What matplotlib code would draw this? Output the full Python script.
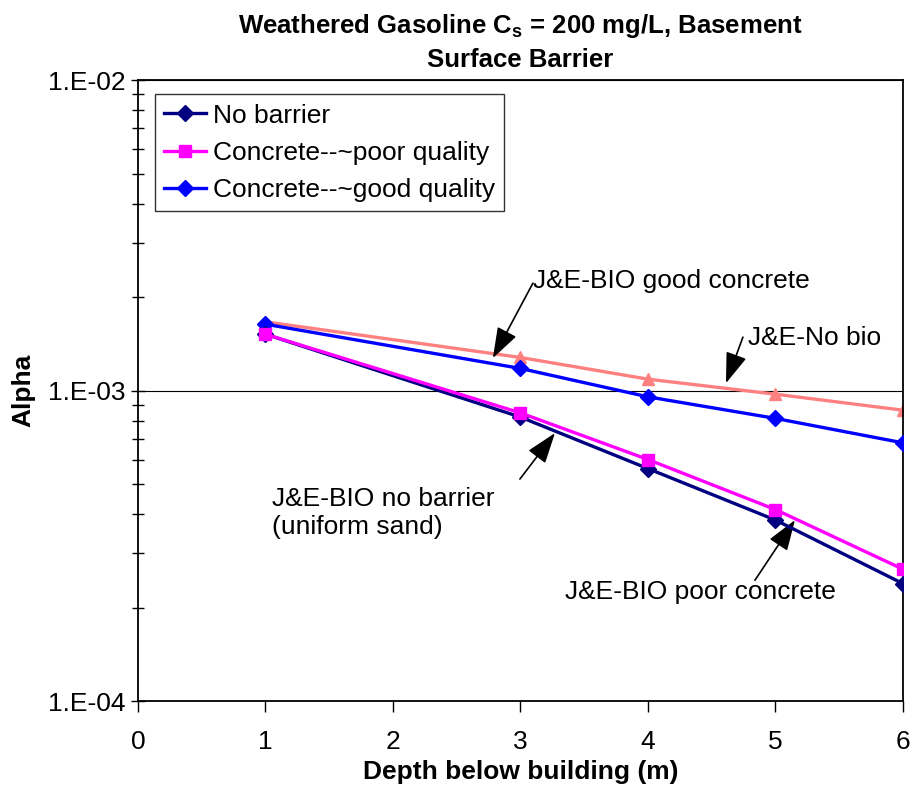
import matplotlib
matplotlib.use("Agg")
import matplotlib.pyplot as plt
from matplotlib.ticker import LogLocator, NullFormatter, FixedLocator

plt.rcParams['font.family'] = ['Liberation Sans', 'DejaVu Sans']
plt.rcParams['mathtext.fontset'] = 'custom'
plt.rcParams['mathtext.rm'] = 'Liberation Sans'
plt.rcParams['mathtext.bf'] = 'Liberation Sans:bold'

depth = [1, 3, 4, 5, 6]
no_barrier = [1.52e-3, 8.22e-4, 5.61e-4, 3.83e-4, 2.39e-4]
poor_concrete = [1.52e-3, 8.48e-4, 6.00e-4, 4.14e-4, 2.66e-4]
good_concrete = [1.637e-3, 1.179e-3, 9.55e-4, 8.14e-4, 6.79e-4]
no_bio = [1.666e-3, 1.279e-3, 1.089e-3, 9.74e-4, 8.65e-4]

series_labels = ["No barrier", "Concrete--~poor quality", "Concrete--~good quality"]
ytick_vals = [1e-4, 1e-3, 1e-2]
ytick_labels = ["1.E-04", "1.E-03", "1.E-02"]
xtick_vals = [0, 1, 2, 3, 4, 5, 6]

fig = plt.figure(figsize=(9.13, 7.86), dpi=100)
ax = fig.add_axes([0.151, 0.108, 0.838, 0.790])

lw = 2.4
ax.plot(depth, no_bio, color='#FF8080', marker='^', markersize=9, lw=lw, zorder=2)
ax.plot(depth, good_concrete, color='#0000FF', marker='D', markersize=8, lw=lw, label=series_labels[2], zorder=3)
ax.plot(depth, no_barrier, color='#000080', marker='D', markersize=8, lw=lw, label=series_labels[0], zorder=4)
ax.plot(depth, poor_concrete, color='#FF00FF', marker='s', markersize=9, lw=lw, label=series_labels[1], zorder=5)

ax.set_yscale('log')
ax.set_xlim(0, 6)
ax.set_ylim(1e-4, 1e-2)
ax.yaxis.set_major_locator(FixedLocator(ytick_vals))
ax.set_yticklabels(ytick_labels)
ax.yaxis.set_minor_locator(LogLocator(base=10, subs=range(2, 10)))
ax.yaxis.set_minor_formatter(NullFormatter())
ax.set_xticks(xtick_vals)
ax.set_xticklabels([str(v) for v in xtick_vals])

ax.grid(axis='y', which='major', color='black', lw=0.8)
ax.tick_params(axis='y', which='major', direction='inout', length=10, width=1, labelsize=19, pad=4)
ax.tick_params(axis='y', which='minor', direction='inout', length=8, width=1)
ax.tick_params(axis='x', which='major', direction='out', length=8, width=1, labelsize=19, pad=13)
for s in ax.spines.values():
    s.set_linewidth(1.3)
    s.set_color('black')

ax.set_xlabel("Depth below building (m)", fontsize=19, fontweight='bold', labelpad=4)
ax.set_ylabel("Alpha", fontsize=19, fontweight='bold', labelpad=9)
fig.text(0.57, 0.985, "Weathered Gasoline C$_\\mathbf{s}$ = 200 mg/L, Basement\nSurface Barrier",
         ha='center', va='top', fontsize=18.5, fontweight='bold', linespacing=1.45)

handles, labels = ax.get_legend_handles_labels()
order = [labels.index(l) for l in series_labels]
leg = ax.legend([handles[i] for i in order], [labels[i] for i in order],
                loc='upper left', bbox_to_anchor=(0.022, 0.977), fontsize=19,
                frameon=True, fancybox=False, edgecolor='black', handlelength=1.6,
                handletextpad=0.25, borderpad=0.35, labelspacing=0.5, borderaxespad=0)
leg.get_frame().set_linewidth(1.0)

arrowprops = dict(arrowstyle='-|>,head_length=0.95,head_width=0.33', color='black', lw=1.2,
                  mutation_scale=20, shrinkA=0, shrinkB=0)

ax.text(3.098, 2.25e-3, "J&E-BIO good concrete", fontsize=19, ha='left', va='center')
ax.annotate("", xy=(2.784, 1.273e-3), xytext=(3.098, 2.219e-3), arrowprops=arrowprops)

ax.text(4.784, 1.476e-3, "J&E-No bio", fontsize=19, ha='left', va='center')
ax.annotate("", xy=(4.612, 1.057e-3), xytext=(4.745, 1.487e-3), arrowprops=arrowprops)

ax.text(1.051, 4.03e-4, "J&E-BIO no barrier\n(uniform sand)", fontsize=19, ha='left', va='center',
        linespacing=1.2)
ax.annotate("", xy=(3.271, 7.30e-4), xytext=(2.996, 5.19e-4), arrowprops=arrowprops)

ax.text(3.349, 2.24e-4, "J&E-BIO poor concrete", fontsize=19, ha='left', va='center')
ax.annotate("", xy=(5.153, 3.83e-4), xytext=(4.839, 2.45e-4), arrowprops=arrowprops)

fig.savefig("out.png", dpi=100)
